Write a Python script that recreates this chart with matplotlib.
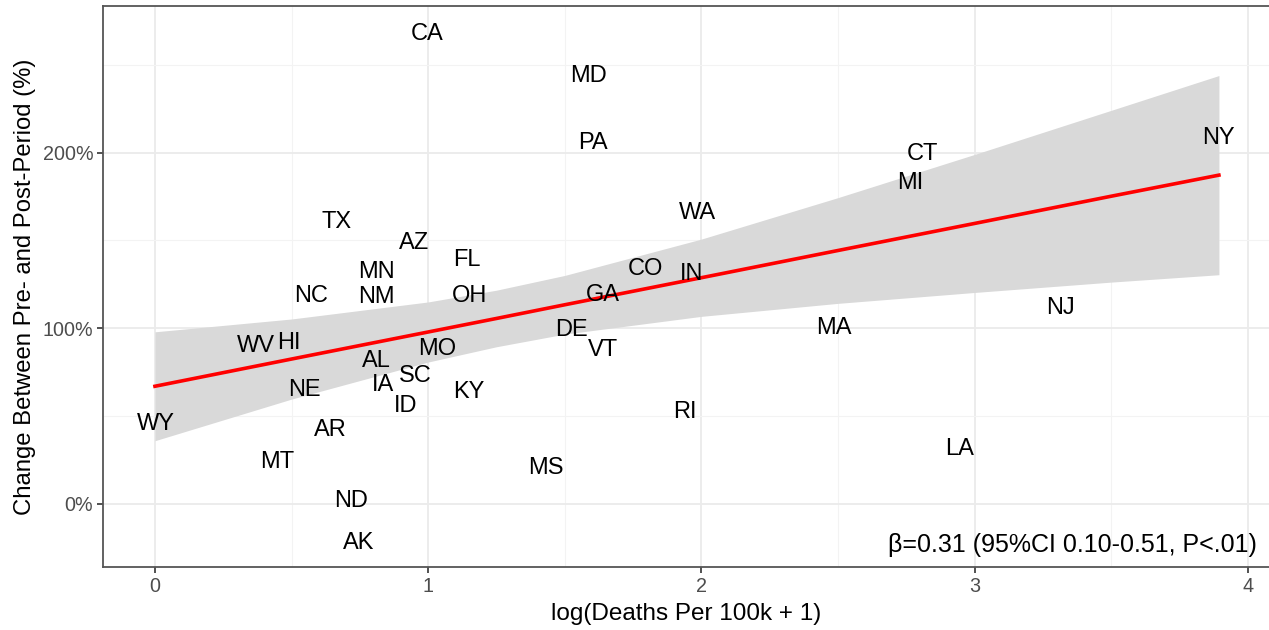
import matplotlib
matplotlib.use("Agg")
import matplotlib.pyplot as plt
import matplotlib.ticker as mtick
import numpy as np

plt.rcParams['font.family'] = ['Liberation Sans', 'DejaVu Sans']

# state labels: log(deaths per 100k + 1) vs change (%)
states = ['CA', 'MD', 'PA', 'NY', 'CT', 'MI', 'WA', 'TX', 'AZ', 'FL',
          'MN', 'CO', 'IN', 'NC', 'NM', 'OH', 'GA', 'NJ', 'DE', 'MA',
          'WV', 'HI', 'MO', 'VT', 'AL', 'SC', 'IA', 'NE', 'KY', 'ID',
          'RI', 'WY', 'AR', 'LA', 'MT', 'MS', 'ND', 'AK']
log_deaths = [0.996, 1.586, 1.604, 3.894, 2.810, 2.766, 1.985, 0.663, 0.949, 1.143,
              0.810, 1.795, 1.963, 0.571, 0.810, 1.150, 1.641, 3.315, 1.524, 2.484,
              0.370, 0.491, 1.033, 1.641, 0.810, 0.952, 0.835, 0.546, 1.147, 0.919,
              1.938, 0.004, 0.641, 2.945, 0.447, 1.432, 0.718, 0.744]
change_pct = [267.8, 243.6, 205.7, 208.5, 199.4, 182.9, 165.8, 160.7, 148.7, 139.0,
              131.9, 133.6, 130.8, 118.5, 117.9, 118.5, 119.1, 111.7, 99.1, 100.3,
              89.7, 91.5, 88.3, 87.7, 81.5, 73.0, 67.8, 65.0, 63.8, 55.8,
              52.4, 45.6, 42.2, 31.3, 23.9, 20.5, 1.7, -22.2]

# fitted line and 95% band
fit_x = [0, 0.5, 1, 1.25, 1.5, 2, 2.5, 3, 3.5, 3.894]
fit_y = [67.0, 82.5, 97.9, 105.6, 113.4, 128.8, 144.3, 159.7, 175.2, 187.2]
band_lo = [36.0, 59.7, 80.8, 89.5, 96.7, 106.8, 114.2, 120.4, 126.3, 130.5]
band_hi = [98.0, 105.3, 115.0, 121.7, 130.1, 150.8, 174.4, 199.0, 224.1, 243.9]

annot = "\u03b2=0.31 (95%CI 0.10-0.51, P<.01)"

fig = plt.figure(figsize=(12.69, 6.30), dpi=100)
ax = fig.add_axes([0.0812, 0.1, 0.9196, 0.8905])

ax.fill_between(fit_x, band_lo, band_hi, color='#d9d9d9', lw=0, zorder=1)
ax.plot(fit_x, fit_y, color='red', lw=2.6, zorder=2)
for s, x, y in zip(states, log_deaths, change_pct):
    ax.text(x, y, s, ha='center', va='center', fontsize=17, color='black', zorder=3)

ax.text(0.989, 0.018, annot, transform=ax.transAxes, ha='right', va='bottom',
        fontsize=18, color='black')

ax.set_xticks([0, 1, 2, 3, 4])
ax.set_xticks([0.5, 1.5, 2.5, 3.5], minor=True)
ax.set_yticks([0, 100, 200])
ax.set_yticks([50, 150, 250], minor=True)
ax.set_xlim(-0.19, 4.081)
ax.set_ylim(-35.9, 283.5)
ax.yaxis.set_major_formatter(mtick.FuncFormatter(lambda v, p: "{:.0f}%".format(v)))

ax.grid(which='major', color='#ebebeb', lw=1.3, zorder=0)
ax.grid(which='minor', color='#f3f3f3', lw=0.8, zorder=0)
ax.set_axisbelow(True)
ax.tick_params(which='major', length=4, width=1.2, color='#333333',
               labelsize=14.2, labelcolor='#4d4d4d', pad=3)
ax.tick_params(which='minor', length=0)
for sp in ['left', 'bottom', 'top']:
    ax.spines[sp].set_color('#555555')
    ax.spines[sp].set_linewidth(1.3)
ax.spines['right'].set_visible(False)

ax.set_xlabel("log(Deaths Per 100k + 1)", fontsize=17.5, labelpad=5)
ax.set_ylabel("Change Between Pre- and Post-Period (%)", fontsize=17.2, labelpad=5)

fig.savefig("out.png", dpi=100)
